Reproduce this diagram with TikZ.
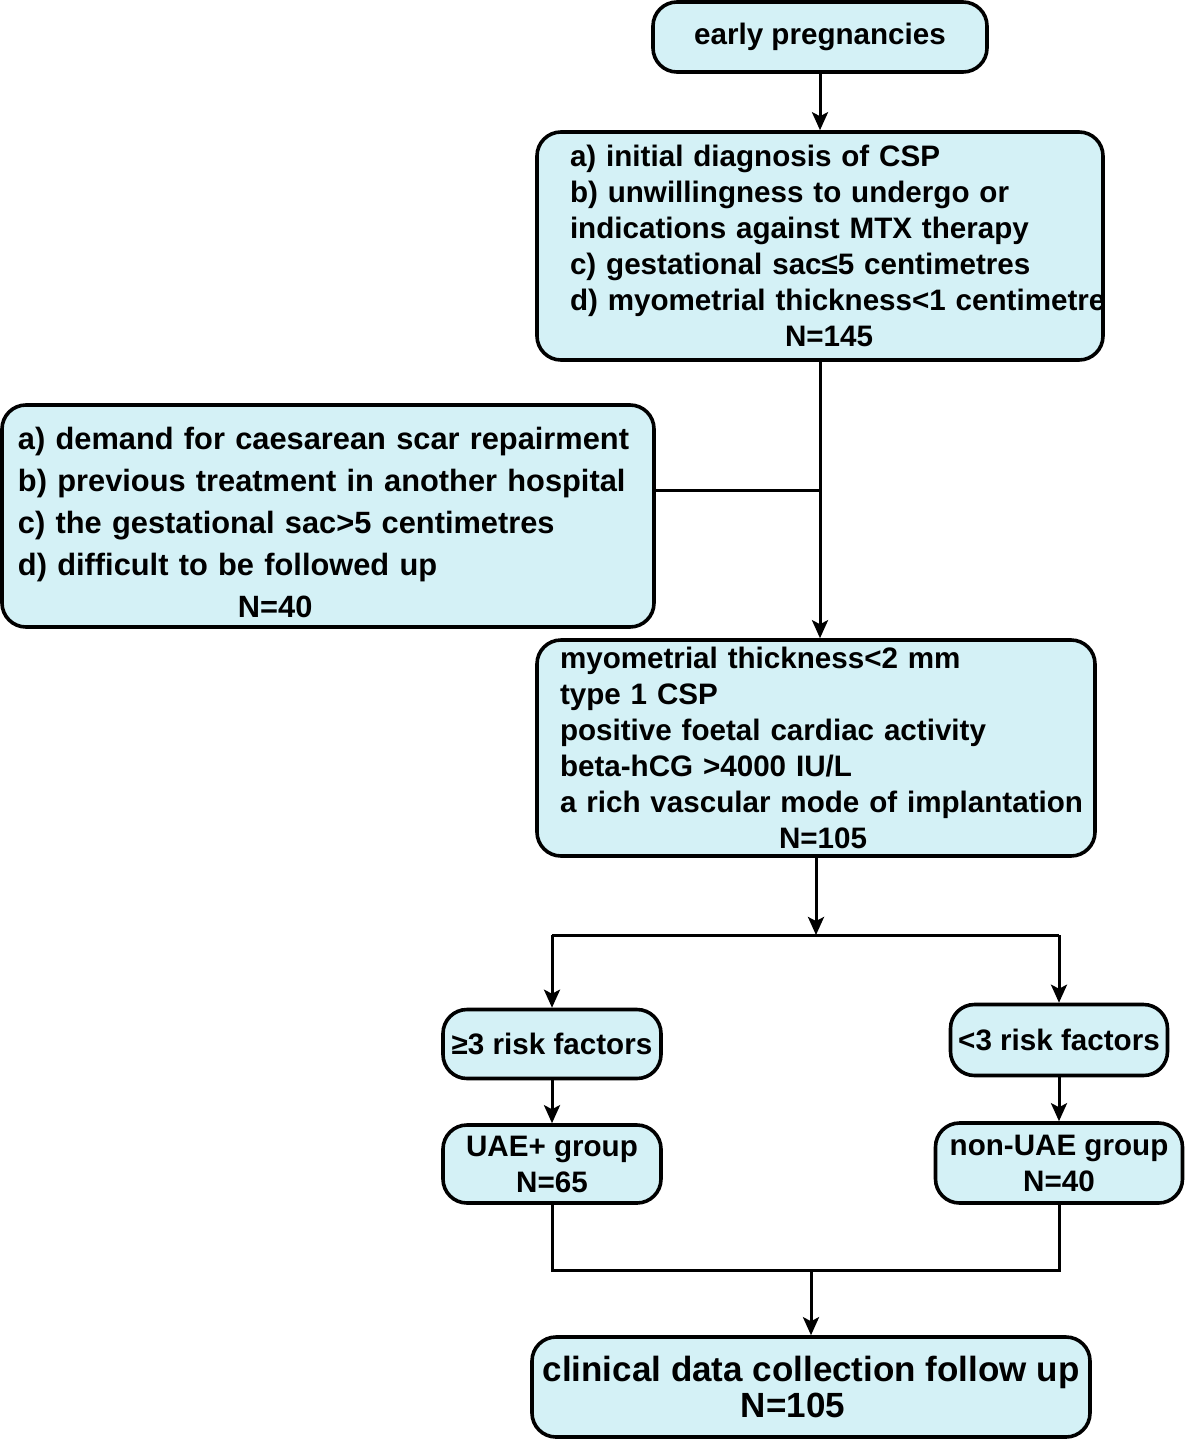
\documentclass[tikz,border=0pt]{standalone}
\usepackage{fontspec}
\setmainfont{Liberation Sans}
\usepackage{xcolor}
\usetikzlibrary{shapes, positioning, arrows.meta}

\definecolor{boxcyan}{RGB}{212,241,246}

\tikzset{
  flowbox/.style={draw, line width=1.8pt, fill=boxcyan, rounded corners=12pt,
    inner xsep=4pt, inner ysep=0pt, align=left, font=\fontsize{14.8}{18}\selectfont\bfseries},
  flowline/.style={line width=1.5pt},
  flowarrow/.style={line width=1.5pt, -{Stealth[length=9pt,width=8pt,inset=2pt]}}
}

\begin{document}
\begin{tikzpicture}[x=0.5pt, y=-0.5pt]
          \useasboundingbox (0,0) rectangle (1185,1440);

          \node[flowbox, minimum width=167pt, minimum height=35pt] (Early) at (820,37) {early pregnancies};

          \node[flowbox, text width=250pt, inner xsep=16.5pt, minimum height=114pt] (Criteria) at (820,246) {a) initial diagnosis of CSP\\
b) unwillingness to undergo or\\
indications against MTX therapy\\
c) gestational sac≤5 centimetres\\
\mbox{d) myometrial thickness<1 centimetre}\\
\hspace*{107.5pt}N=145};

          \node[flowbox, text width=310pt, inner xsep=8pt, minimum height=111pt,
                font=\fontsize{15.4}{21}\selectfont\bfseries] (Excluded) at (328,516) {\rule{0pt}{18pt}\mbox{a) demand for caesarean scar repairment}\\
\mbox{b) previous treatment in another hospital}\\
c) the gestational sac>5 centimetres\\
d) difficult to be followed up\\
\hspace*{110pt}N=40};

          \node[flowbox, text width=256pt, inner xsep=11.5pt, minimum height=108pt] (Risk) at (816,748) {myometrial thickness<2 mm\\
type 1 CSP\\
positive foetal cardiac activity\\
beta-hCG >4000 IU/L\\
\mbox{a rich vascular mode of implantation}\\
\hspace*{109.5pt}N=105};

          \node[flowbox, minimum width=109pt, minimum height=34.5pt, inner xsep=1pt] (HighRisk) at (552,1044) {≥3 risk factors};
          \node[flowbox, minimum width=108.5pt, minimum height=35.5pt, inner xsep=1pt] (LowRisk) at (1059,1040) {<3 risk factors};

          \node[flowbox, minimum width=109pt, minimum height=39pt, align=center] (UAE) at (552,1164) {UAE+ group\\N=65};
          \node[flowbox, minimum width=123.5pt, minimum height=40pt, align=center] (NonUAE) at (1059,1163) {non-UAE group\\N=40};

          \node[flowbox, minimum width=279pt, minimum height=50pt, align=center,
                font=\fontsize{17.5}{18}\selectfont\bfseries] (Clinical) at (811,1387) {clinical data collection follow up\\\hspace*{-18pt}N=105};

          \coordinate (Split) at (816,935);
          \coordinate (Merge) at (811,1270);

          \draw[flowarrow] (Early) -- (Criteria);
          \draw[flowarrow] (Criteria.south) -- (Criteria.south |- Risk.north);
          \draw[flowline] ([yshift=13pt]Excluded.east) -- ([yshift=13pt]Excluded.east -| Criteria.south);

          % split into the two groups
          \draw[flowarrow] (Risk.south) -- (Split);
          \draw[flowline] (HighRisk.north |- Split) -- (LowRisk.north |- Split);
          \draw[flowarrow] (HighRisk.north |- Split) -- (HighRisk.north);
          \draw[flowarrow] (LowRisk.north |- Split) -- (LowRisk.north);
          \draw[flowarrow] (HighRisk) -- (UAE);
          \draw[flowarrow] (LowRisk) -- (NonUAE);

          % merge for follow up
          \draw[flowline] (UAE.south) -- (UAE.south |- Merge) -- (NonUAE.south |- Merge) -- (NonUAE.south);
          \draw[flowarrow] (Merge) -- (Clinical.north -| Merge);

        \end{tikzpicture}
\end{document}
